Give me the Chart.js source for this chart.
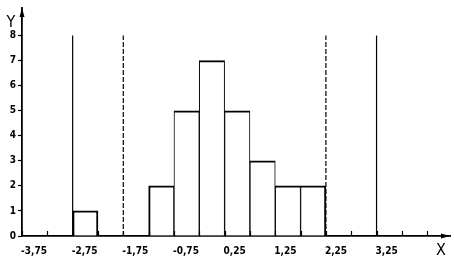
<!DOCTYPE html>
<html>
<head>
<meta charset="utf-8">
<script src="https://cdn.jsdelivr.net/npm/chart.js@4.4.1/dist/chart.umd.min.js"></script>
<style>
  html, body { margin: 0; padding: 0; background: #fff; }
  canvas { display: block; }
</style>
</head>
<body>
<canvas id="hist" width="454" height="261"></canvas>
<script>
// Klassen (linke Grenze) und Häufigkeiten
const binStarts = [-2.75, -1.25, -0.75, -0.25, 0.25, 0.75, 1.25, 1.75];
const counts = [1, 2, 5, 7, 5, 3, 2, 2];
const binWidth = 0.5;

// senkrechte Grenzlinien
const solidLines = [-2.75, 3.25];
const dashedLines = [-1.75, 2.25];
const lineTop = 8;

// Achsen
const xTickValues = [-3.75, -3.25, -2.75, -2.25, -1.75, -1.25, -0.75, -0.25, 0.25, 0.75, 1.25, 1.75, 2.25, 2.75, 3.25, 3.75, 4.25];
const xLabelValues = [-3.75, -2.75, -1.75, -0.75, 0.25, 1.25, 2.25, 3.25];
const xLabels = ['-3,75', '-2,75', '-1,75', '-0,75', '0,25', '1,25', '2,25', '3,25'];
const yTickValues = [0, 1, 2, 3, 4, 5, 6, 7, 8];

const FONT = '"DejaVu Sans Condensed", "Liberation Sans Narrow", "DejaVu Sans", sans-serif';

// Pfeile, kleine Striche und Achsenbuchstaben
const decor = {
    id: 'decor',
    afterDraw(chart) {
        const {ctx, chartArea: a, scales: {x}} = chart;
        ctx.save();
        ctx.strokeStyle = '#000';
        ctx.lineWidth = 1.2;
        xTickValues.forEach(v => {
            const px = Math.round(x.getPixelForValue(v)) + 0.5;
            ctx.beginPath();
            ctx.moveTo(px, a.bottom);
            ctx.lineTo(px, a.bottom - 5);
            ctx.stroke();
        });
        ctx.fillStyle = '#000';
        ctx.beginPath();
        ctx.moveTo(a.left, a.top);
        ctx.lineTo(a.left - 2.5, a.top + 9);
        ctx.lineTo(a.left + 2.5, a.top + 9);
        ctx.closePath();
        ctx.fill();
        ctx.beginPath();
        ctx.moveTo(a.right, a.bottom);
        ctx.lineTo(a.right - 9, a.bottom - 2.5);
        ctx.lineTo(a.right - 9, a.bottom + 2.5);
        ctx.closePath();
        ctx.fill();
        ctx.font = '16px ' + FONT;
        ctx.textAlign = 'center';
        ctx.textBaseline = 'alphabetic';
        ctx.fillText('Y', a.left - 11, a.top + 19);
        ctx.fillText('X', a.right - 9, 255);
        ctx.restore();
    }
};

const vline = (xv, dash) => ({
    type: 'line',
    data: [{x: xv, y: 0}, {x: xv, y: lineTop}],
    borderColor: '#000',
    borderWidth: 1.2,
    borderDash: dash,
    pointRadius: 0,
    fill: false
});

const datasets = [
    {
        type: 'bar',
        data: binStarts.map((s, i) => ({x: s + binWidth / 2, y: counts[i]})),
        backgroundColor: '#fff',
        borderColor: '#000',
        borderSkipped: false,
        borderWidth: c => {
            const s = binStarts[c.dataIndex];
            if (s === undefined) return 2;
            return {
                top: 2,
                bottom: 0,
                left: binStarts.includes(s - binWidth) ? 1 : 2,
                right: binStarts.includes(s + binWidth) ? 1 : 2
            };
        },
        barPercentage: 1,
        categoryPercentage: 1
    }
];
solidLines.forEach(v => datasets.push(vline(v, [])));
dashedLines.forEach(v => datasets.push(vline(v, [5, 2])));

new Chart(document.getElementById('hist'), {
    type: 'bar',
    data: {datasets: datasets},
    options: {
        responsive: false,
        animation: false,
        layout: {padding: {top: 6, right: 4, left: 0, bottom: 0}},
        plugins: {legend: {display: false}, tooltip: {enabled: false}},
        scales: {
            x: {
                type: 'linear',
                min: -3.75,
                max: 4.7,
                offset: false,
                afterBuildTicks: s => { s.ticks = xTickValues.map(v => ({value: v})); },
                ticks: {
                    autoSkip: false,
                    maxRotation: 0,
                    align: 'start',
                    labelOffset: -1,
                    padding: 9,
                    color: '#000',
                    font: {family: FONT, size: 10, weight: 'bold'},
                    callback: v => {
                        const i = xLabelValues.indexOf(v);
                        return i >= 0 ? xLabels[i] : '';
                    }
                },
                grid: {drawOnChartArea: false, drawTicks: false, offset: false},
                border: {color: '#000', width: 1.8},
                afterFit: s => { s.height = 25; }
            },
            y: {
                min: 0,
                max: 9.1,
                afterBuildTicks: s => { s.ticks = yTickValues.map(v => ({value: v})); },
                ticks: {color: '#000', font: {family: FONT, size: 10, weight: 'bold'}, padding: 2},
                grid: {drawOnChartArea: false, drawTicks: true, tickLength: 4, tickWidth: 1.2, tickColor: '#000'},
                border: {color: '#000', width: 1.8},
                afterFit: s => { s.width = 22; }
            }
        }
    },
    plugins: [decor]
});
</script>
</body>
</html>
